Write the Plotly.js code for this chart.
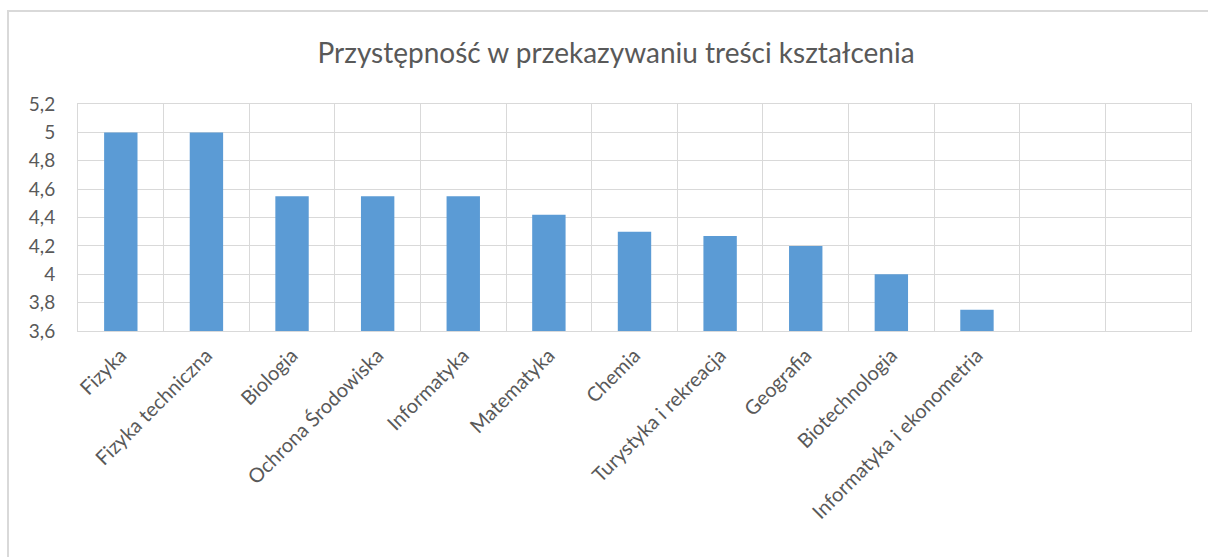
<!DOCTYPE html>
<html>
<head>
<meta charset="utf-8">
<script src="https://cdn.plot.ly/plotly-3.0.1.min.js"></script>
<style>html,body{margin:0;padding:0;background:#fff;}#chart{width:1208px;height:557px;}</style>
</head>
<body>
<div id="chart"></div>
<script>
const categories = ["Fizyka", "Fizyka techniczna", "Biologia", "Ochrona Środowiska", "Informatyka", "Matematyka", "Chemia", "Turystyka i rekreacja", "Geografia", "Biotechnologia", "Informatyka i ekonometria", " ", "  "];
const values = [5.0, 5.0, 4.55, 4.55, 4.55, 4.42, 4.30, 4.27, 4.20, 4.0, 3.75, null, null];
const yTicks = [3.6, 3.8, 4.0, 4.2, 4.4, 4.6, 4.8, 5.0, 5.2];
const yTickText = ["3,6", "3,8", "4", "4,2", "4,4", "4,6", "4,8", "5", "5,2"];
const chartTitle = "Przystępność w przekazywaniu treści kształcenia";

const fontFam = "Lato, 'Open Sans', sans-serif";
const textCol = "#595959";
const gridCol = "#d9d9d9";

const data = [{
  type: "bar",
  x: categories,
  y: values,
  marker: {color: "#5B9BD5", line: {width: 0}},
  hoverinfo: "x+y"
}];

const layout = {
  width: 1208, height: 557,
  margin: {l: 78, r: 17, t: 104, b: 226},
  paper_bgcolor: "#ffffff", plot_bgcolor: "#ffffff",
  showlegend: false,
  bargap: 0.61,
  title: {text: chartTitle, font: {family: fontFam, size: 28, color: textCol}, x: 0.51, xanchor: "center", y: 0.905, yanchor: "middle"},
  xaxis: {
    type: "category",
    categoryorder: "array", categoryarray: categories,
    tickson: "boundaries",
    showgrid: true, gridcolor: gridCol, gridwidth: 1,
    showline: true, linecolor: gridCol, linewidth: 1, mirror: true,
    ticks: "", tickangle: -45,
    tickfont: {family: fontFam, size: 20, color: textCol},
    ticklabelstandoff: 4,
    range: [-0.5, 12.5], fixedrange: true
  },
  yaxis: {
    range: [3.6, 5.2],
    tickvals: yTicks, ticktext: yTickText,
    showgrid: true, gridcolor: gridCol, gridwidth: 1,
    showline: true, linecolor: gridCol, linewidth: 1, mirror: true,
    zeroline: false, ticks: "",
    tickfont: {family: fontFam, size: 19, color: textCol},
    ticklabelstandoff: 18,
    fixedrange: true
  },
  shapes: [{
    type: "rect", xref: "paper", yref: "paper",
    x0: (8 - 78) / 1113, x1: 1.2,
    y0: -1.3, y1: 1 + (104 - 11) / 227,
    line: {color: "#d9d9d9", width: 2}, fillcolor: "rgba(0,0,0,0)", layer: "below"
  }]
};

Plotly.newPlot("chart", data, layout, {displayModeBar: false, staticPlot: true});
</script>
</body>
</html>
